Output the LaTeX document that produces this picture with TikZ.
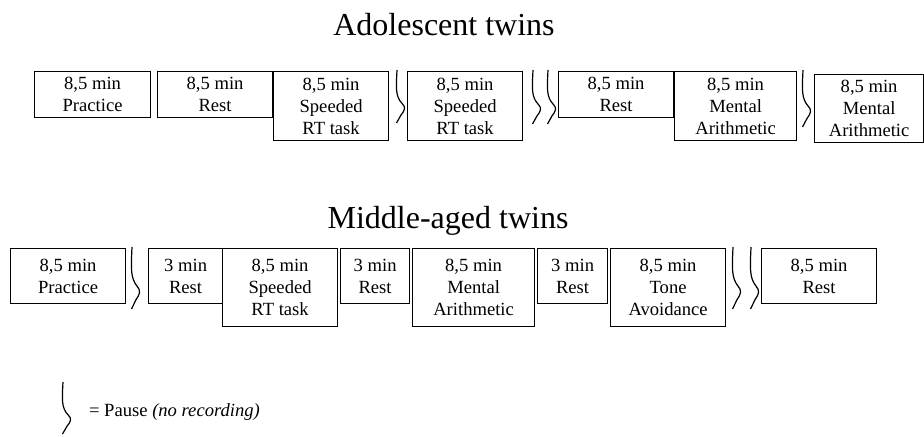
\documentclass[tikz,border=0pt]{standalone}
\usepackage{fontspec}
\setmainfont{Liberation Serif}
\usetikzlibrary{positioning}
\tikzset{>=latex}

% boxes of the session plan
\tikzset{
  stage/.style={draw, line width=0.6pt, anchor=north west, align=center,
    inner sep=0pt, font=\fontsize{9.3}{11}\selectfont},
  title/.style={anchor=base, font=\fontsize{16}{19}\selectfont},
  brace/.style={line width=0.6pt}
}
% pause mark: x, top, bottom
\newcommand{\pausemark}[3]{%
  \draw[brace] (#1,#2) .. controls ({#1-1},{#2+0.35*(#3-#2)}) and ({#1-1.5},{#2+0.5*(#3-#2)}) .. ({#1+5},{#2+0.63*(#3-#2)})
    .. controls ({#1+9},{#2+0.7*(#3-#2)}) and ({#1+8},{#2+0.76*(#3-#2)}) .. ({#1+4},{#2+0.85*(#3-#2)})
    .. controls ({#1+1},{#2+0.92*(#3-#2)}) .. ({#1-0.5},#3);}

\begin{document}
\begin{tikzpicture}[x=0.5pt,y=-0.5pt]
\useasboundingbox (0,0) rectangle (924,437);

\node[title] (adol) at (444,36) {Adolescent twins};
\node[stage, minimum width=58pt, minimum height=23pt] (a1) at (34,71) {8,5 min\\Practice};
\node[stage, minimum width=57.5pt, minimum height=23pt] (a2) at (157,71) {8,5 min\\Rest};
\node[stage, minimum width=57.5pt, minimum height=34.5pt] (a3) at (273,71) {8,5 min\\Speeded\\RT task};
\node[stage, minimum width=57.5pt, minimum height=34.5pt] (a4) at (407,71) {8,5 min\\Speeded\\RT task};
\node[stage, minimum width=57.5pt, minimum height=23pt] (a5) at (558,71) {8,5 min\\Rest};
\node[stage, minimum width=61pt, minimum height=34.5pt] (a6) at (674,71) {8,5 min\\Mental\\Arithmetic};
\node[stage, minimum width=54.5pt, minimum height=34pt] (a7) at (814,74) {8,5 min\\Mental\\Arithmetic};
\pausemark{397}{70}{123}
\pausemark{533}{70}{124}
\pausemark{548}{70}{124}
\pausemark{803}{70}{127}

\node[title] (mid) at (448,229) {Middle-aged twins};
\node[stage, minimum width=57.5pt, minimum height=27.5pt] (b1) at (10,248) {8,5 min\\Practice};
\node[stage, minimum width=37pt, minimum height=27.5pt] (b2) at (148,248) {3 min\\Rest};
\node[stage, minimum width=57.5pt, minimum height=39pt] (b3) at (222,248) {8,5 min\\Speeded\\RT task};
\node[stage, minimum width=34.5pt, minimum height=27.5pt] (b4) at (340,248) {3 min\\Rest};
\node[stage, minimum width=61pt, minimum height=39pt] (b5) at (412,248) {8,5 min\\Mental\\Arithmetic};
\node[stage, minimum width=35pt, minimum height=27.5pt] (b6) at (537,248) {3 min\\Rest};
\node[stage, minimum width=57.5pt, minimum height=39pt] (b7) at (610,248) {8,5 min\\Tone\\Avoidance};
\node[stage, minimum width=57.5pt, minimum height=27.5pt] (b8) at (761,248) {8,5 min\\Rest};
\pausemark{132}{247}{309}
\pausemark{733}{247}{309}
\pausemark{751}{247}{309}

% legend
\pausemark{63}{382}{434}
\node[anchor=base west, font=\fontsize{9.3}{11}\selectfont] (legend) at (82,416) {= Pause \textit{(no recording)}};
\end{tikzpicture}
\end{document}
